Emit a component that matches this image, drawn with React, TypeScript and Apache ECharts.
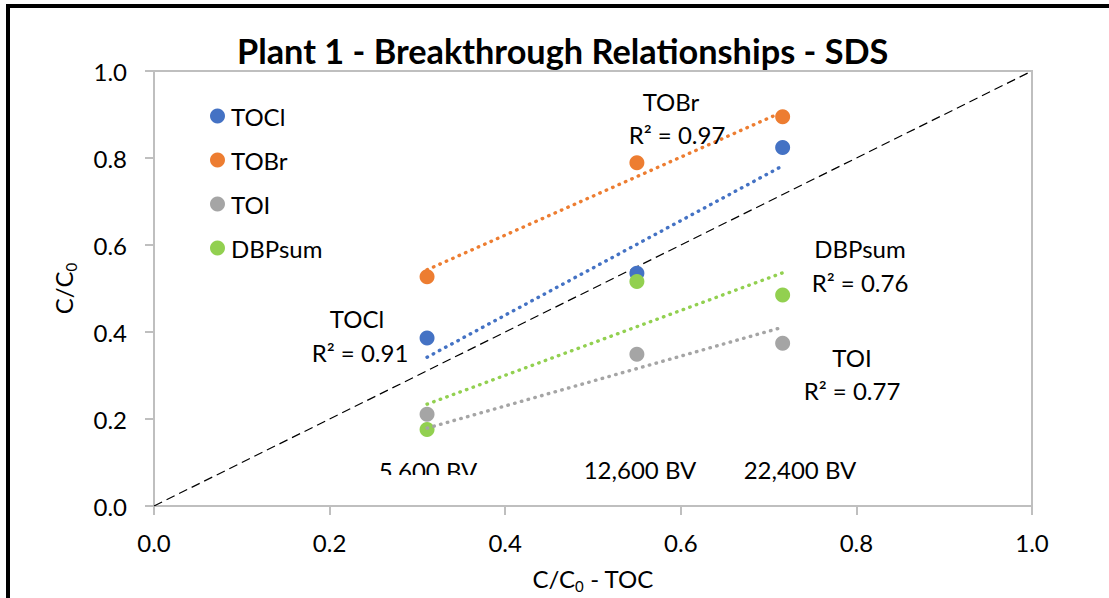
import React, { useEffect, useRef } from "react";
import * as echarts from "echarts";

// Data
const seriesNames = ["TOCl", "TOBr", "TOI", "DBPsum"];
const seriesColors = ["#4472C4", "#ED7D31", "#A5A5A5", "#92D050"];
const xValues = [0.311, 0.55, 0.716];
const toclValues = [0.386, 0.535, 0.824];
const tobrValues = [0.527, 0.789, 0.895];
const toiValues = [0.211, 0.349, 0.374];
const dbpsumValues = [0.176, 0.516, 0.485];
// linear trendline ends (at first and last x)
const toclTrend = [0.342, 0.782];
const tobrTrend = [0.543, 0.906];
const toiTrend = [0.179, 0.411];
const dbpsumTrend = [0.234, 0.536];
const rSquared = ["0.91", "0.97", "0.77", "0.76"];
const bvLabels = ["5,600 BV", "12,600 BV", "22,400 BV"];
const axisTicks = [0, 0.2, 0.4, 0.6, 0.8, 1.0];

const FONT = "Lato, 'Open Sans', sans-serif";
const FS = 24;

export default function App() {
  const ref = useRef<HTMLDivElement>(null);
  useEffect(() => {
    if (!ref.current) return;
    const chart = echarts.init(ref.current, null, { renderer: "svg" });
    const values = [toclValues, tobrValues, toiValues, dbpsumValues];
    const trends = [toclTrend, tobrTrend, toiTrend, dbpsumTrend];
    const scatter = seriesNames.map((n, i) => ({
      name: n,
      type: "scatter",
      symbol: "circle",
      symbolSize: 15,
      z: 3,
      itemStyle: { color: seriesColors[i], opacity: 1 },
      data: xValues.map((x, j) => [x, values[i][j]]),
    }));
    const trendSeries = seriesNames.map((n, i) => ({
      name: n + " trend",
      type: "line",
      symbol: "none",
      z: 4,
      lineStyle: { color: seriesColors[i], width: 3.4, type: [0.5, 6.5], cap: "round" },
      data: [
        [xValues[0], trends[i][0]],
        [xValues[xValues.length - 1], trends[i][1]],
      ],
    }));
    const txt = (text: string, x: number, y: number, extra: any = {}) => ({
      type: "text",
      x,
      y,
      z: 10,
      style: {
        text,
        fill: "#000",
        font: `${FS}px ${FONT}`,
        align: "center",
        verticalAlign: "middle",
        ...extra,
      },
    });
    const nameRich = {
      a: { fontFamily: FONT, fontSize: FS, color: "#000" },
      s: { fontFamily: FONT, fontSize: 15, color: "#000", verticalAlign: "bottom", padding: [14, 0, 0, 0] },
    };
    const option: any = {
      animation: false,
      backgroundColor: "#fff",
      textStyle: { fontFamily: FONT },
      title: {
        text: "Plant 1 - Breakthrough Relationships - SDS",
        left: 232,
        top: 28,
        textStyle: { fontFamily: FONT, fontSize: 34.3, fontWeight: "bold", color: "#000" },
      },
      grid: {
        left: 154,
        top: 71,
        width: 878,
        height: 435,
        show: true,
        borderColor: "#BFBFBF",
        borderWidth: 2,
        containLabel: false,
      },
      legend: {
        data: seriesNames,
        orient: "vertical",
        left: 205,
        top: 99,
        icon: "circle",
        itemWidth: 15,
        itemHeight: 15,
        itemGap: 20,
        textStyle: { fontFamily: FONT, fontSize: FS, lineHeight: 20, color: "#000", padding: [0, 0, 0, 1] },
      },
      xAxis: {
        type: "value",
        min: 0,
        max: 1,
        interval: 0.2,
        name: "{a|C/C}{s|0}{a| - TOC}",
        nameLocation: "middle",
        nameGap: 58,
        nameTextStyle: { rich: nameRich },
        axisLine: { lineStyle: { color: "#BFBFBF", width: 2 } },
        axisTick: { show: true, length: 9, lineStyle: { color: "#BFBFBF", width: 2 } },
        axisLabel: {
          margin: 24,
          fontFamily: FONT,
          fontSize: FS,
          color: "#000",
          formatter: (v: number) => v.toFixed(1),
        },
        splitLine: { show: false },
      },
      yAxis: {
        type: "value",
        min: 0,
        max: 1,
        interval: 0.2,
        name: "{a|C/C}{s|0}",
        nameLocation: "middle",
        nameGap: 76,
        nameRotate: 90,
        nameTextStyle: { rich: nameRich },
        axisLine: { show: true, lineStyle: { color: "#BFBFBF", width: 2 } },
        axisTick: { show: true, length: 9, lineStyle: { color: "#BFBFBF", width: 2 } },
        axisLabel: {
          margin: 27,
          fontFamily: FONT,
          fontSize: FS,
          color: "#000",
          formatter: (v: number) => v.toFixed(1),
        },
        splitLine: { show: false },
      },
      series: [
        {
          name: "1:1",
          type: "line",
          symbol: "none",
          z: 2,
          lineStyle: { color: "#000", width: 1.2, type: [9, 5] },
          data: [
            [axisTicks[0], axisTicks[0]],
            [axisTicks[axisTicks.length - 1], axisTicks[axisTicks.length - 1]],
          ],
        },
        ...scatter,
        ...trendSeries,
      ],
      graphic: [
        {
          type: "rect",
          z: 0,
          shape: { x: 8, y: 6, width: 1300, height: 800 },
          style: { fill: "none", stroke: "#000", lineWidth: 4 },
          silent: true,
        },
        txt("TOBr", 671, 101),
        txt(`R² = ${rSquared[1]}`, 677, 134),
        txt("TOCl", 357, 318),
        txt(`R² = ${rSquared[0]}`, 360, 352),
        txt("DBPsum", 860, 248),
        txt(`R² = ${rSquared[3]}`, 860, 282),
        txt("TOI", 852, 357),
        txt(`R² = ${rSquared[2]}`, 852, 390),
        txt(bvLabels[0], 428, 470),
        txt(bvLabels[1], 640, 469),
        txt(bvLabels[2], 800, 469),
        {
          type: "rect",
          z: 11,
          shape: { x: 370, y: 475, width: 120, height: 14 },
          style: { fill: "#fff" },
          silent: true,
        },
      ],
    };
    chart.setOption(option);
    return () => chart.dispose();
  }, []);
  return (
    <div
      ref={ref}
      style={{ position: "fixed", left: 0, top: 0, width: 1109, height: 598, background: "#fff" }}
    />
  );
}
